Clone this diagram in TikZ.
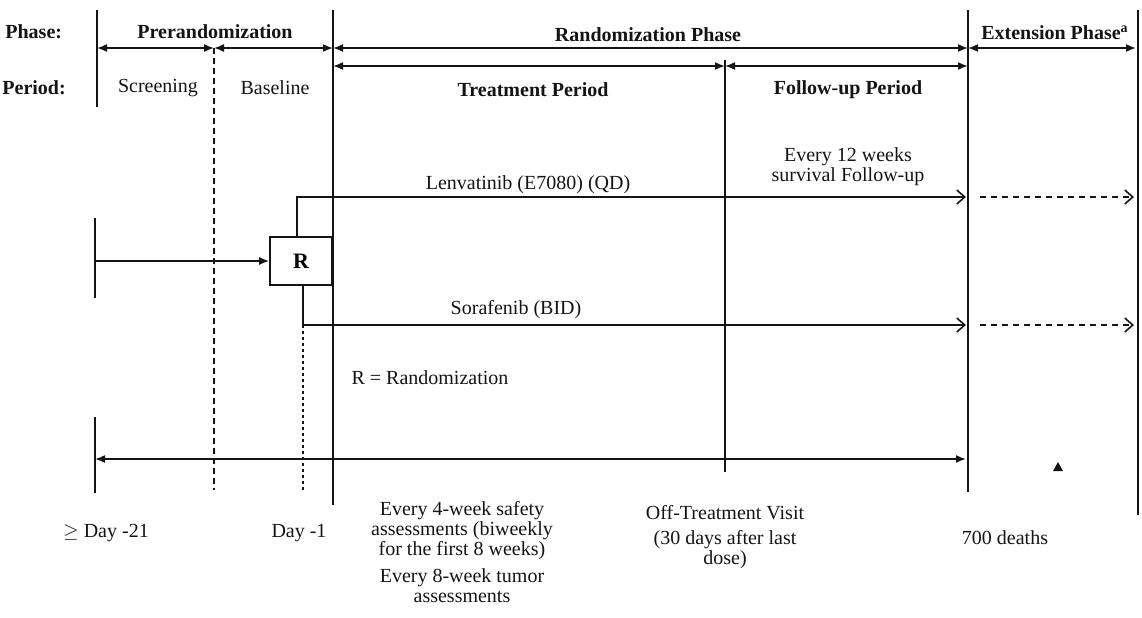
\documentclass[tikz,border=0pt]{standalone}
\usepackage{fontspec}
\setmainfont{Liberation Serif}
\usepackage{tikz}
\usetikzlibrary{arrows.meta, positioning, calc}
\definecolor{inkdark}{RGB}{20,20,20}
\tikzset{
  hdr/.style={font=\bfseries\fontsize{10}{12}\selectfont, text=inkdark, inner sep=1pt},
  lbl/.style={font=\fontsize{10}{10}\selectfont, text=inkdark, align=center, inner sep=0.5pt},
  bar/.style={line width=0.9pt, color=inkdark},
  span/.style={{Latex[length=5pt,width=4pt]}-{Latex[length=5pt,width=4pt]}, line width=0.8pt, color=inkdark},
  feed/.style={-{Latex[length=5pt,width=4pt]}, line width=0.8pt, color=inkdark},
  arm/.style={-{Straight Barb[length=4pt,width=7pt]}, line width=0.8pt, color=inkdark},
  ext/.style={arm, dash pattern=on 3pt off 2.5pt},
  divider/.style={line width=0.9pt, color=inkdark, dash pattern=on 3pt off 2pt},
  dayline/.style={line width=1.1pt, color=inkdark, dash pattern=on 1.5pt off 1.5pt},
  rbox/.style={rectangle, draw=inkdark, line width=0.8pt, minimum width=31pt,
    minimum height=24pt, inner sep=0pt, font=\bfseries\fontsize{11}{13}\selectfont}
}
\begin{document}
\begin{tikzpicture}[x=0.5pt, y=-0.5pt]
  \useasboundingbox (0,0) rectangle (1142,617);

  % Column boundaries
  \coordinate (scrT) at (97,10);    \coordinate (scrB) at (97,107);
  \coordinate (baseT) at (214,48);  \coordinate (baseB) at (214,490);
  \coordinate (randT) at (333,10);  \coordinate (randB) at (333,505);
  \coordinate (fupT) at (725,60);   \coordinate (fupB) at (725,472);
  \coordinate (endT) at (968,10);   \coordinate (endB) at (968,492);
  \coordinate (extT) at (1138,10);  \coordinate (extB) at (1138,515);
  \coordinate (phaseRow) at (0,48);
  \coordinate (periodRow) at (0,66);

  \draw[bar] (scrT) -- (scrB);
  \draw[divider] (baseT) -- (baseB);
  \draw[bar] (randT) -- (randB);
  \draw[bar] (fupT) -- (fupB);
  \draw[bar] (endT) -- (endB);
  \draw[bar] (extT) -- (extB);

  % Phase and period headers
  \node[hdr, anchor=west] (phase) at (3,32) {Phase:};
  \node[hdr, anchor=west] (period) at (0,88) {Period:};
  \node[hdr] (prerand) at (215,32) {Prerandomization};
  \node[hdr] (randph) at (648,35) {Randomization Phase};
  \node[hdr] (extph) at (1055,33) {Extension Phase\textsuperscript{a}};
  \node[lbl] (screen) at (158,88) {Screening};
  \node[lbl] (baseline) at (275,88) {Baseline};
  \node[hdr] (treat) at (533,90) {Treatment Period};
  \node[hdr] (fup) at (848,90) {Follow-up Period};

  \draw[span] (scrT |- phaseRow) -- (baseT |- phaseRow);
  \draw[span] (baseT |- phaseRow) -- (randT |- phaseRow);
  \draw[span] (randT |- phaseRow) -- (endT |- phaseRow);
  \draw[span] (endT |- phaseRow) -- ([xshift=-1pt]extT |- phaseRow);
  \draw[span] (randT |- periodRow) -- (fupT |- periodRow);
  \draw[span] (fupT |- periodRow) -- (endT |- periodRow);

  % Randomization and treatment arms
  \node[rbox] (rnd) at (301,261) {R};
  \coordinate (startT) at (95,218); \coordinate (startB) at (95,298);
  \draw[bar] (startT) -- (startB);
  \draw[feed] (startT |- rnd) -- (rnd.west);

  \coordinate (lenvEnd) at (966,197);
  \coordinate (soraEnd) at (966,325);
  \draw[arm] ([xshift=-2pt]rnd.north) |- (lenvEnd);
  \draw[arm] ([xshift=1pt]rnd.south) |- (soraEnd);
  \draw[ext] (980,197) coordinate (lenvExt) -- (1134,197) coordinate (lenvTip);
  \draw[ext] (980,325) coordinate (soraExt) -- (1134,325) coordinate (soraTip);
  \coordinate (dayT) at ([xshift=1pt]rnd.south |- soraEnd);
  \coordinate (dayB) at ([xshift=1pt]rnd.south |- 0,493);
  \draw[dayline] (dayT) -- (dayB);

  \node[lbl] (lenv) at (528,185) {Lenvatinib (E7080) (QD)};
  \node[lbl] (surv) at (848,167) {Every 12 weeks\\survival Follow-up};
  \node[lbl] (sora) at (516,310) {Sorafenib (BID)};
  \node[lbl] (legend) at (430,378) {R = Randomization};

  % Time line
  \coordinate (tlL) at (95,459); \coordinate (tlR) at (966,459);
  \draw[bar] (95,417) coordinate (tlT) -- (95,493) coordinate (tlB);
  \draw[span] (tlL) -- (tlR);
  \fill[inkdark] (1058,462) coordinate (mark) -- ++(5,9) -- ++(-10,0) -- cycle;

  % Milestones
  \node[lbl] (day21) at (106,533) {$\geq$ Day -21};
  \node[lbl] (day1) at (299,533) {Day -1};
  \node[lbl] (safety) at (462,531) {Every 4-week safety\\assessments (biweekly\\for the first 8 weeks)};
  \node[lbl] (tumor) at (462,586) {Every 8-week tumor\\assessments};
  \node[lbl] (offtx) at (725,513) {Off-Treatment Visit};
  \node[lbl] (offtxd) at (725,550) {(30 days after last\\dose)};
  \node[lbl] (deaths) at (1005,538) {700 deaths};
\end{tikzpicture}
\end{document}
